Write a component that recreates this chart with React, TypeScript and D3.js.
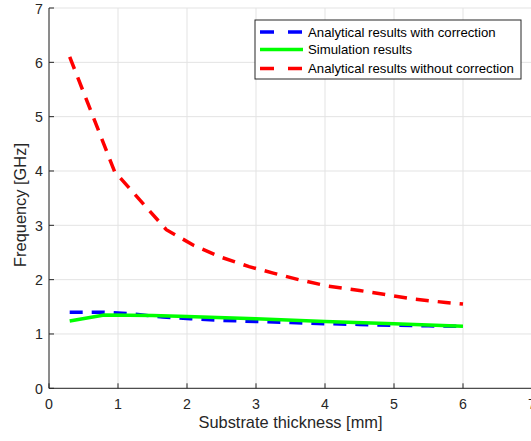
import React from "react";
import * as d3 from "d3";

const xTicks = [0, 1, 2, 3, 4, 5, 6, 7];
const yTicks = [0, 1, 2, 3, 4, 5, 6, 7];

const blueX = [0.3, 0.8, 1.2, 1.65, 2.05, 2.5, 3, 3.5, 4, 4.5, 5, 5.5, 6];
const blueY = [1.4, 1.4, 1.37, 1.31, 1.28, 1.25, 1.23, 1.21, 1.19, 1.175, 1.16, 1.15, 1.14];

const greenX = [0.3, 0.8, 1.5, 2, 3, 4, 5, 6];
const greenY = [1.24, 1.35, 1.34, 1.32, 1.28, 1.23, 1.19, 1.14];

const redX = [0.3, 0.95, 1.7, 2.1, 2.5, 2.9, 3.25, 3.65, 4.05, 4.5, 4.9, 5.3, 5.75, 6];
const redY = [6.1, 3.99, 2.92, 2.63, 2.41, 2.24, 2.12, 1.99, 1.88, 1.8, 1.72, 1.64, 1.58, 1.55];

const legendLabels = [
  "Analytical results with correction",
  "Simulation results",
  "Analytical results without correction",
];

const W = 531;
const H = 441;
const left = 49;
const right = 532;
const top = 8;
const bottom = 388.3;
const font = "Liberation Sans, Arial, sans-serif";
const axisColor = "#262626";
const gridColor = "#e3e3e3";

export default function App() {
  const x = d3.scaleLinear().domain([0, 7]).range([left, right]);
  const y = d3.scaleLinear().domain([0, 7]).range([bottom, top]);
  const line = d3
    .line<[number, number]>()
    .x((d) => x(d[0]))
    .y((d) => y(d[1]));

  const series = [
    { xs: blueX, ys: blueY, color: "#0000ff", dash: "13,9" },
    { xs: greenX, ys: greenY, color: "#00ff00", dash: "none" },
    { xs: redX, ys: redY, color: "#ff0000", dash: "13,9" },
  ];

  const legX = 255;
  const legY = 20;
  const legW = 266;
  const legH = 59;
  const rowY = [32, 49.5, 68.5];

  return (
    <svg
      width={W}
      height={H}
      style={{ position: "fixed", left: 0, top: 0, background: "#fff" }}
      fontFamily={font}
    >
      <rect x={0} y={0} width={W} height={H} fill="#fff" />
      {/* grid */}
      {xTicks.map((t) => (
        <line key={"gx" + t} x1={x(t)} x2={x(t)} y1={top} y2={bottom} stroke={gridColor} strokeWidth={1} />
      ))}
      {yTicks.map((t) => (
        <line key={"gy" + t} x1={left} x2={W} y1={y(t)} y2={y(t)} stroke={gridColor} strokeWidth={1} />
      ))}
      {/* axes */}
      <line x1={left} x2={left} y1={top} y2={bottom} stroke={axisColor} strokeWidth={1} />
      <line x1={left} x2={W} y1={bottom} y2={bottom} stroke={axisColor} strokeWidth={1} />
      {xTicks.map((t) => (
        <g key={"tx" + t}>
          <line x1={x(t)} x2={x(t)} y1={bottom} y2={bottom - 5} stroke={axisColor} />
          <text x={x(t)} y={bottom + 21} fontSize={14.2} fill={axisColor} textAnchor="middle">
            {t}
          </text>
        </g>
      ))}
      {yTicks.map((t) => (
        <g key={"ty" + t}>
          <line x1={left} x2={left + 5} y1={y(t)} y2={y(t)} stroke={axisColor} />
          <text x={left - 6} y={y(t) + 5.5} fontSize={14.2} fill={axisColor} textAnchor="end">
            {t}
          </text>
        </g>
      ))}
      <text x={(left + right) / 2} y={428} fontSize={16.4} fill={axisColor} textAnchor="middle">
        Substrate thickness [mm]
      </text>
      <text
        transform={`translate(26, 205) rotate(-90)`}
        fontSize={16.4}
        fill={axisColor}
        textAnchor="middle"
      >
        Frequency [GHz]
      </text>
      {/* series */}
      {series.map((s, i) => (
        <path
          key={"s" + i}
          d={line(s.xs.map((v, j) => [v, s.ys[j]] as [number, number])) || ""}
          fill="none"
          stroke={s.color}
          strokeWidth={3.5}
          strokeDasharray={s.dash}
        />
      ))}
      {/* legend */}
      <rect x={legX} y={legY} width={legW} height={legH} fill="#fff" stroke={axisColor} strokeWidth={1} />
      {legendLabels.map((lab, i) => (
        <g key={"l" + i}>
          <line
            x1={260}
            x2={303}
            y1={rowY[i]}
            y2={rowY[i]}
            stroke={series[i].color}
            strokeWidth={3.5}
            strokeDasharray={series[i].dash === "none" ? "none" : "14,14"}
          />
          <text x={308} y={rowY[i] + 4.5} fontSize={13.2} fill="#000">
            {lab}
          </text>
        </g>
      ))}
    </svg>
  );
}
